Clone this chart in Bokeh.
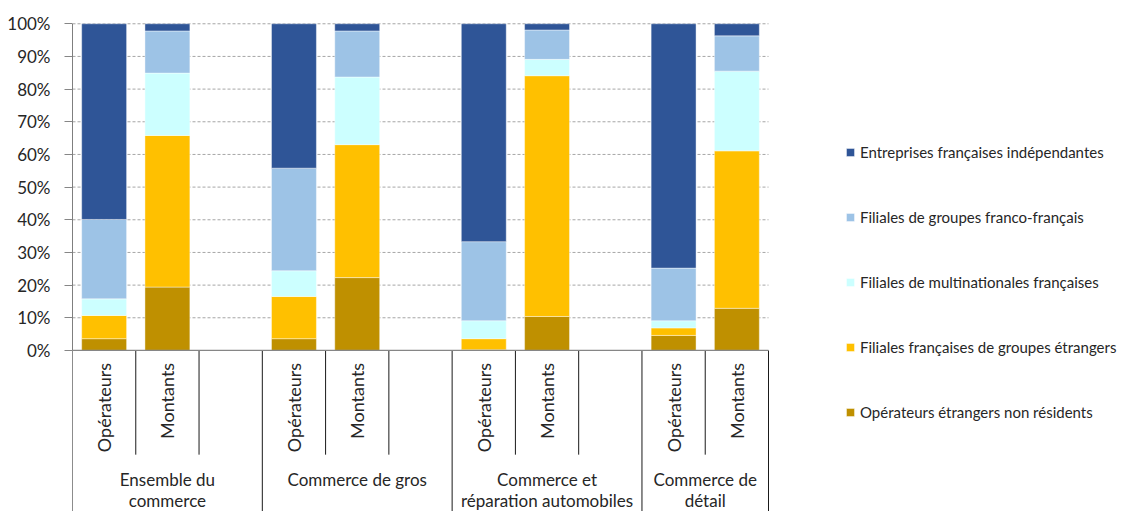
import math
from bokeh.plotting import figure
from bokeh.models import ColumnDataSource, Range1d, FixedTicker, Legend, LegendItem
from bokeh.core.properties import value
from bokeh.embed import file_html
from bokeh.resources import INLINE

# ---------------- data ----------------
groups = ["Ensemble du\ncommerce", "Commerce de gros",
          "Commerce et\nréparation automobiles", "Commerce de\ndétail"]
measures = ["Opérateurs", "Montants"]
series = ["Opérateurs étrangers non résidents",
          "Filiales françaises de groupes étrangers",
          "Filiales de multinationales françaises",
          "Filiales de groupes franco-français",
          "Entreprises françaises indépendantes"]
colors = ["#BF9000", "#FFC000", "#CCFFFF", "#9DC3E6", "#2F5597"]

# order of bars: (group, measure) = E-Op, E-Mo, G-Op, G-Mo, A-Op, A-Mo, D-Op, D-Mo
non_residents     = [3.6, 19.4, 3.6, 22.3, 0.2, 10.4, 4.6, 12.9]
groupes_etrangers = [7.1, 46.4, 12.9, 40.7, 3.4, 73.7, 2.3, 48.2]
multinationales   = [5.1, 19.1, 7.9, 20.7, 5.5, 5.0, 2.2, 24.4]
franco_francais   = [24.3, 12.9, 31.4, 14.1, 24.2, 9.0, 16.1, 10.8]
independantes     = [59.9, 2.2, 44.2, 2.2, 66.7, 1.9, 74.8, 3.7]
y_ticks = [0, 10, 20, 30, 40, 50, 60, 70, 80, 90, 100]

# ---------------- layout of category slots ----------------
slots_per_group = [3, 3, 3, 2]          # last slot of the first groups is empty
group_start = [sum(slots_per_group[:i]) for i in range(len(groups))]
n_slots = sum(slots_per_group)

xs, sub_labels = [], []
for gi in range(len(groups)):
    for mi, m in enumerate(measures):
        xs.append(group_start[gi] + mi + 0.5)
        sub_labels.append(m)

keys = ["s0", "s1", "s2", "s3", "s4"]
src = ColumnDataSource(dict(x=xs, s0=non_residents, s1=groupes_etrangers,
                            s2=multinationales, s3=franco_francais,
                            s4=independantes))

W, H = 1123, 511
LEFT, TOP = 72, 20
PLOT_W = 696                      # pixels covered by the category slots
Y_BOTTOM = -49.3
X_END = n_slots * (W - LEFT) / PLOT_W   # frame spans to the right edge (legend area)
FONT = value("Lato")

p = figure(width=W, height=H, output_backend="svg", toolbar_location=None,
           x_range=Range1d(0, X_END), y_range=Range1d(Y_BOTTOM, 101.0),
           x_axis_location=None, min_border_left=LEFT, min_border_right=0,
           min_border_top=TOP, min_border_bottom=0, background_fill_color="white",
           border_fill_color="white")
p.outline_line_color = None
p.xgrid.visible = False
p.ygrid.visible = False

# horizontal grid lines (limited to the category area)
grid_vals = y_ticks[1:]
p.segment(x0=[0] * len(grid_vals), y0=grid_vals, x1=[n_slots] * len(grid_vals),
          y1=grid_vals, line_color="#A6A6A6", line_dash="3 2", line_width=1)

# y axis
yax = p.yaxis[0]
yax.ticker = FixedTicker(ticks=y_ticks)
yax.major_label_overrides = {t: f"{t}%" for t in y_ticks}
yax.axis_line_color = None
yax.major_tick_out = 8
yax.major_tick_in = 0
yax.major_tick_line_color = "#868686"
yax.minor_tick_line_color = None
yax.major_label_standoff = 14
yax.major_label_text_font = "Lato"
yax.major_label_text_font_size = "17px"
yax.major_label_text_color = "#262626"

# bars
renderers = p.vbar_stack(keys, x="x", width=0.71, source=src, color=colors,
                         line_color="white", line_width=0.6, line_alpha=0.7)

# axis lines and category separators
group_edges = group_start + [n_slots]
inner_edges = []
for gi in range(len(groups)):
    for k in range(1, slots_per_group[gi]):
        inner_edges.append(group_start[gi] + k)
p.segment(x0=group_edges, y0=[0] * len(group_edges), x1=group_edges,
          y1=[Y_BOTTOM] * len(group_edges), line_color="#1a1a1a", line_width=1)
p.segment(x0=inner_edges, y0=[0] * len(inner_edges), x1=inner_edges,
          y1=[-31.9] * len(inner_edges), line_color="#1a1a1a", line_width=1)
p.segment(x0=[0], y0=[0], x1=[0], y1=[100], line_color="black", line_width=1)
p.segment(x0=[0], y0=[0], x1=[n_slots], y1=[0], line_color="#868686", line_width=1.3)

# sub-category labels (rotated)
p.text(x=xs, y=[-3.8] * len(xs), text=sub_labels, angle=math.pi / 2,
       text_align="right", text_baseline="middle", text_font=FONT,
       text_font_size="18px", text_color="#262626")

# group labels
gx = [group_start[i] + slots_per_group[i] / 2 for i in range(len(groups))]
p.text(x=gx, y=[-36.4] * len(gx), text=groups, text_align="center",
       text_baseline="top", text_font=FONT, text_font_size="17px",
       text_line_height=1.0, text_color="#262626")

# legend
items = [LegendItem(label=series[i], renderers=[renderers[i]]) for i in reversed(range(5))]
legend = Legend(items=items, location=(773, 89), orientation="vertical",
                glyph_width=10, glyph_height=10, label_height=20, spacing=45,
                label_standoff=5, padding=0, margin=0,
                border_line_alpha=0, background_fill_alpha=0,
                label_text_font="Lato", label_text_font_size="15px",
                label_text_color="#262626")
p.add_layout(legend)

open("out.html", "w").write(file_html(p, INLINE))
